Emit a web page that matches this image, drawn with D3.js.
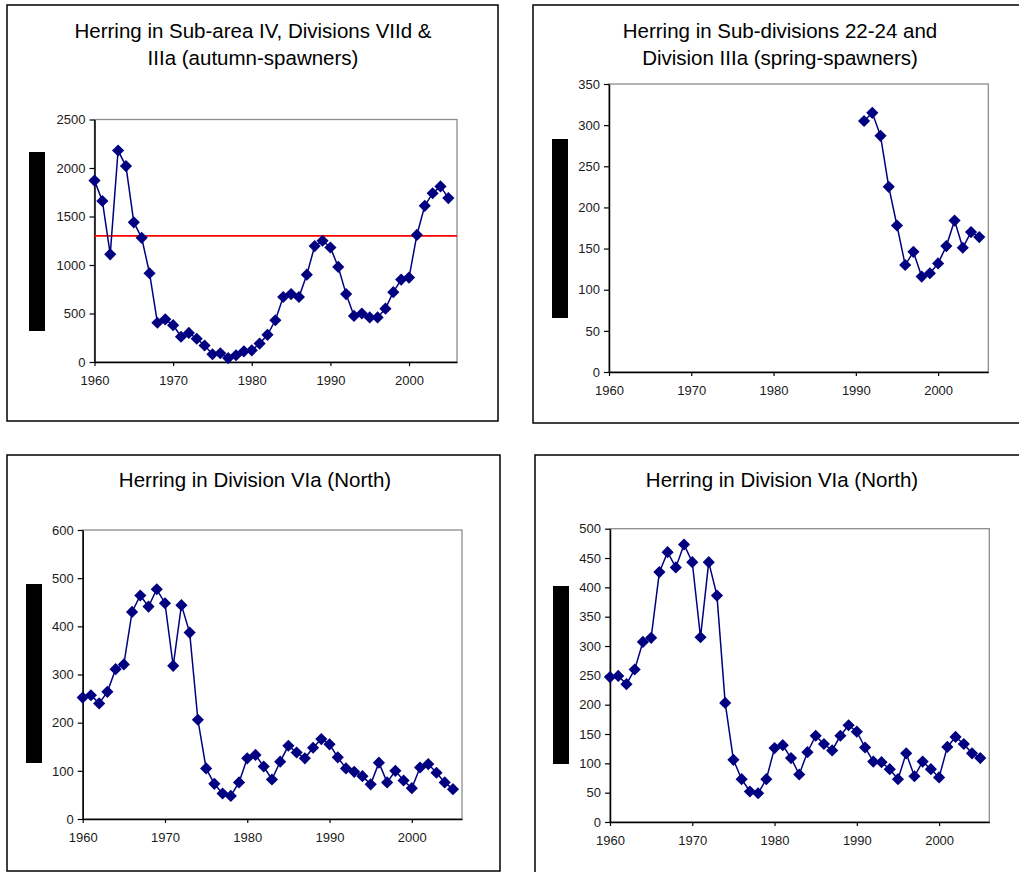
<!DOCTYPE html>
<html>
<head>
<meta charset="utf-8">
<script src="https://cdn.jsdelivr.net/npm/d3@7"></script>
<style>
  body { margin: 0; background: #fff; }
  svg { display: block; font-family: "Liberation Sans", Arial, sans-serif; }
  .tick text { fill: #1a1a1a; }
</style>
</head>
<body>
<svg id="chart" width="1019" height="872"></svg>
<script>
// Years 1960-2005
var years = [1960, 1961, 1962, 1963, 1964, 1965, 1966, 1967, 1968, 1969,
             1970, 1971, 1972, 1973, 1974, 1975, 1976, 1977, 1978, 1979,
             1980, 1981, 1982, 1983, 1984, 1985, 1986, 1987, 1988, 1989,
             1990, 1991, 1992, 1993, 1994, 1995, 1996, 1997, 1998, 1999,
             2000, 2001, 2002, 2003, 2004, 2005];
var xTicks = [1960, 1970, 1980, 1990, 2000];

// North Sea autumn spawners
var northSea = [1870, 1660, 1110, 2180, 2020, 1440, 1280, 915, 405, 440,
                380, 260, 300, 240, 170, 80, 90, 40, 70, 110,
                120, 190, 280, 430, 670, 700, 670, 900, 1195, 1250,
                1180, 980, 700, 475, 500, 460, 460, 550, 720, 850,
                870, 1310, 1610, 1740, 1810, 1690];
var northSeaRef = 1300;
var northSeaTicks = [0, 500, 1000, 1500, 2000, 2500];

// Western Baltic spring spawners (only from 1991)
var balticYears = [1991, 1992, 1993, 1994, 1995, 1996, 1997, 1998, 1999, 2000,
                   2001, 2002, 2003, 2004, 2005];
var baltic = [305, 315, 287, 225, 178, 130, 146, 116, 120, 132,
              153, 184, 151, 170, 164];
var balticTicks = [0, 50, 100, 150, 200, 250, 300, 350];

// Division VIa (North), two versions
var viaA = [252, 257, 240, 264, 311, 321, 430, 464, 441, 477,
            448, 318, 444, 387, 206, 105, 73, 53, 48, 76,
            126, 133, 109, 82, 119, 152, 138, 126, 148, 166,
            155, 128, 105, 98, 89, 72, 117, 76, 100, 80,
            64, 107, 114, 96, 76, 62];
var viaATicks = [0, 100, 200, 300, 400, 500, 600];

var viaB = [247, 249, 235, 260, 307, 314, 426, 460, 434, 473,
            443, 315, 443, 386, 203, 106, 73, 52, 49, 73,
            126, 131, 109, 81, 119, 147, 133, 122, 147, 165,
            154, 127, 103, 102, 90, 73, 117, 78, 103, 90,
            76, 128, 145, 133, 117, 109];
var viaBTicks = [0, 50, 100, 150, 200, 250, 300, 350, 400, 450, 500];

var svg = d3.select("#chart");

function drawPanel(p) {
    // frame
    svg.append("rect")
        .attr("x", p.frame[0]).attr("y", p.frame[1])
        .attr("width", p.frame[2]).attr("height", p.frame[3])
        .attr("fill", "none")
        .attr("stroke", "#000")
        .attr("stroke-width", 1.5);

    // title
    var title = svg.append("text")
        .attr("text-anchor", "middle")
        .attr("font-size", 20.5)
        .attr("fill", "#000");
    p.title.forEach(function(line, i) {
        title.append("tspan")
            .attr("x", p.titleX)
            .attr("y", p.titleY + i * 27)
            .text(line);
    });

    // black block where the y label was
    svg.append("rect")
        .attr("x", p.bar[0]).attr("y", p.bar[1])
        .attr("width", p.bar[2]).attr("height", p.bar[3])
        .attr("fill", "#000");

    var x = d3.scaleLinear()
        .domain([1960, 2006.1])
        .range([p.left, p.right]);
    var y = d3.scaleLinear()
        .domain([0, p.yTicks[p.yTicks.length - 1]])
        .range([p.bottom, p.top]);

    // plot area border (grey)
    svg.append("rect")
        .attr("x", p.left).attr("y", p.top)
        .attr("width", p.right - p.left).attr("height", p.bottom - p.top)
        .attr("fill", "none")
        .attr("stroke", "#8c8c8c")
        .attr("stroke-width", 1.3);

    var yAxis = svg.append("g")
        .attr("transform", `translate(${p.left},0)`)
        .call(d3.axisLeft(y).tickValues(p.yTicks).tickFormat(d3.format("d")).tickSize(5).tickPadding(4).tickSizeOuter(0));
    var xAxis = svg.append("g")
        .attr("transform", `translate(0,${p.bottom})`)
        .call(d3.axisBottom(x).tickValues(xTicks).tickFormat(d3.format("d")).tickSize(4).tickPadding(10).tickSizeOuter(0));
    [xAxis, yAxis].forEach(function(a) {
        a.attr("font-size", 13).attr("font-family", null);
        a.select(".domain").attr("stroke", "#000").attr("stroke-width", 1.5);
        a.selectAll(".tick line").attr("stroke", "#000").attr("stroke-width", 1.2);
    });

    // reference line
    if (p.ref != null) {
        svg.append("line")
            .attr("x1", p.left).attr("x2", p.right)
            .attr("y1", y(p.ref)).attr("y2", y(p.ref))
            .attr("stroke", "#ff0000")
            .attr("stroke-width", 1.6);
    }

    var pts = p.years.map(function(yr, i) { return [yr, p.values[i]]; });

    svg.append("path")
        .datum(pts)
        .attr("fill", "none")
        .attr("stroke", "#000080")
        .attr("stroke-width", 1.5)
        .attr("d", d3.line().x(d => x(d[0])).y(d => y(d[1])));

    var diamond = d3.symbol(d3.symbolSquare, 74);
    svg.append("g")
        .selectAll("path")
        .data(pts)
        .join("path")
            .attr("transform", d => `translate(${x(d[0])},${y(d[1])}) rotate(45)`)
            .attr("d", diamond)
            .attr("fill", "#000080");
}

drawPanel({
    frame: [7, 5, 491, 416],
    title: ["Herring in Sub-area IV, Divisions VIId &", "IIIa (autumn-spawners)"],
    titleX: 253, titleY: 38,
    bar: [29, 152, 16, 179],
    left: 94.5, right: 457, top: 119.5, bottom: 362,
    yTicks: northSeaTicks,
    years: years, values: northSea,
    ref: northSeaRef
});

drawPanel({
    frame: [533, 5, 520, 418],
    title: ["Herring in Sub-divisions 22-24 and", "Division IIIa (spring-spawners)"],
    titleX: 780, titleY: 38,
    bar: [552, 139, 16, 179],
    left: 609, right: 988.3, top: 84, bottom: 372,
    yTicks: balticTicks,
    years: balticYears, values: baltic
});

drawPanel({
    frame: [7, 455, 493, 416],
    title: ["Herring in Division VIa (North)"],
    titleX: 255, titleY: 487,
    bar: [26, 584, 16, 179],
    left: 82.7, right: 462, top: 530, bottom: 819,
    yTicks: viaATicks,
    years: years, values: viaA
});

drawPanel({
    frame: [535, 455, 520, 430],
    title: ["Herring in Division VIa (North)"],
    titleX: 782, titleY: 487,
    bar: [553, 586, 16, 178],
    left: 610, right: 989.3, top: 528.7, bottom: 822,
    yTicks: viaBTicks,
    years: years, values: viaB
});
</script>
</body>
</html>
